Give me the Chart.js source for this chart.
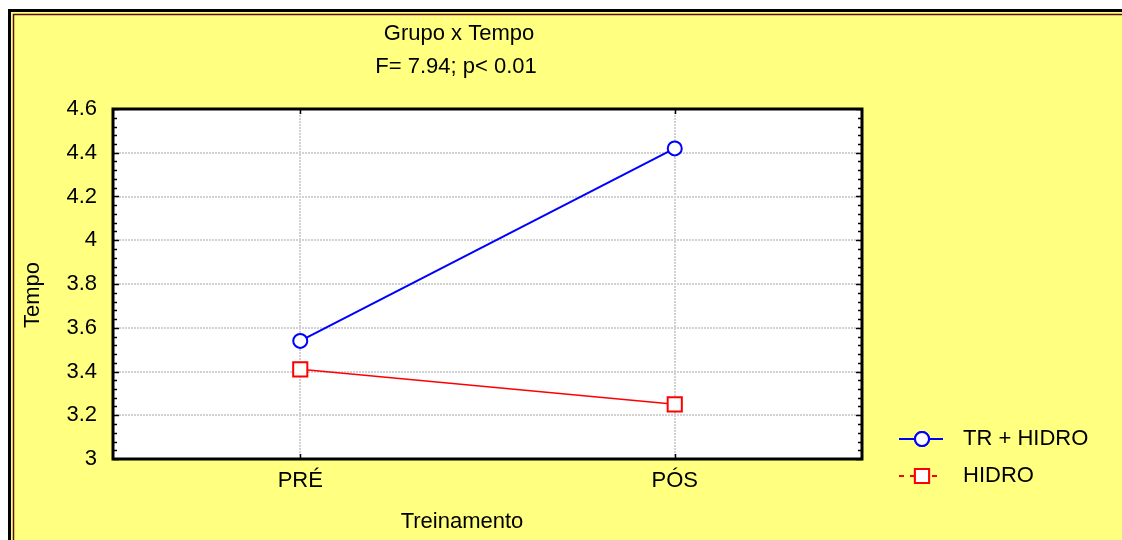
<!DOCTYPE html>
<html>
<head>
<meta charset="utf-8">
<script src="https://cdn.jsdelivr.net/npm/chart.js@4"></script>
<style>
  body { margin: 0; background: #fff; }
</style>
</head>
<body>
<canvas id="chart" width="1122" height="540"></canvas>
<script>
// data
const categories = ["PRÉ", "PÓS"];
const trHidro = [3.54, 4.42];
const hidro = [3.41, 3.25];
const seriesNames = ["TR + HIDRO", "HIDRO"];
const yRange = [3, 4.6];
const yStep = 0.2;
const titleLines = ["Grupo x Tempo", "F= 7.94; p< 0.01"];
const xTitle = "Treinamento";
const yTitle = "Tempo";

const W = 1122, H = 540;
const FONT = '"Liberation Sans", Arial, sans-serif';
const FS = 22;

Chart.defaults.font.family = FONT;
Chart.defaults.font.size = FS;
Chart.defaults.color = "#000";

// frame, plot box, inward ticks, titles and legend
const decor = {
  id: "decor",
  beforeDraw(chart) {
    const { ctx, chartArea: a } = chart;
    ctx.save();
    ctx.fillStyle = "#fff";
    ctx.fillRect(0, 0, W, H);
    ctx.fillStyle = "#FFFF80";
    ctx.fillRect(8, 9, W - 8, H - 9);
    ctx.strokeStyle = "#000";
    ctx.lineWidth = 3;
    ctx.beginPath();
    ctx.moveTo(9.5, H); ctx.lineTo(9.5, 10.5); ctx.lineTo(W, 10.5);
    ctx.stroke();
    ctx.strokeStyle = "#5a1010";
    ctx.lineWidth = 1.5;
    ctx.beginPath();
    ctx.moveTo(13.5, H); ctx.lineTo(13.5, 14.5); ctx.lineTo(W, 14.5);
    ctx.stroke();
    ctx.fillStyle = "#fff";
    ctx.fillRect(a.left, a.top, a.width, a.height);
    ctx.restore();
  },
  afterDraw(chart) {
    const { ctx, chartArea: a, scales } = chart;
    ctx.save();

    // box
    ctx.strokeStyle = "#000";
    ctx.lineWidth = 3;
    ctx.strokeRect(a.left, a.top, a.width, a.height);

    // minor/major ticks on left and right
    ctx.lineWidth = 1.5;
    ctx.beginPath();
    const n = Math.round((yRange[1] - yRange[0]) / 0.04);
    for (let i = 0; i <= n; i++) {
      const y = Math.round(scales.y.getPixelForValue(yRange[0] + i * 0.04)) + 0.5;
      const len = i % 5 === 0 ? 6 : 4;
      ctx.moveTo(a.left, y); ctx.lineTo(a.left + len, y);
      ctx.moveTo(a.right, y); ctx.lineTo(a.right - len, y);
    }
    categories.forEach((c, i) => {
      const x = Math.round(scales.x.getPixelForValue(i)) + 0.5;
      ctx.moveTo(x, a.bottom); ctx.lineTo(x, a.bottom - 5);
      ctx.moveTo(x, a.top); ctx.lineTo(x, a.top + 5);
    });
    ctx.stroke();

    // titles
    ctx.fillStyle = "#000";
    ctx.font = FS + "px " + FONT;
    ctx.textAlign = "center";
    ctx.textBaseline = "middle";
    ctx.fillText(titleLines[0], 459, 34);
    ctx.fillText(titleLines[1], 456, 67);
    ctx.fillText(xTitle, 462, 522);
    ctx.save();
    ctx.translate(33, 295);
    ctx.rotate(-Math.PI / 2);
    ctx.fillText(yTitle, 0, 0);
    ctx.restore();

    // legend
    chart.data.datasets.forEach((ds, i) => {
      const y = 439 + i * 37;
      ctx.strokeStyle = ds.borderColor;
      ctx.lineWidth = 2;
      ctx.setLineDash(i === 1 ? [5, 6] : []);
      ctx.beginPath();
      ctx.moveTo(899, y); ctx.lineTo(943, y);
      ctx.stroke();
      ctx.setLineDash([]);
      Chart.helpers.drawPoint(ctx, {
        pointStyle: ds.pointStyle,
        radius: ds.pointRadius,
        borderWidth: ds.pointBorderWidth
      }, 922, y);
      ctx.fillStyle = "#fff";
      ctx.strokeStyle = ds.borderColor;
      ctx.lineWidth = ds.pointBorderWidth;
      ctx.fill();
      ctx.stroke();
      ctx.fillStyle = "#000";
      ctx.textAlign = "left";
      ctx.fillText(ds.label, 963, y);
    });
    ctx.restore();
  }
};

new Chart(document.getElementById("chart"), {
  type: "line",
  data: {
    labels: categories,
    datasets: [
      {
        label: seriesNames[0],
        data: trHidro,
        borderColor: "#0000FF",
        borderWidth: 2,
        pointStyle: "circle",
        pointRadius: 7,
        pointBorderWidth: 2,
        pointBackgroundColor: "#fff",
        pointBorderColor: "#0000FF"
      },
      {
        label: seriesNames[1],
        data: hidro,
        borderColor: "#FF0000",
        borderWidth: 1.5,
        pointStyle: "rect",
        pointRadius: 10,
        pointBorderWidth: 2,
        pointBackgroundColor: "#fff",
        pointBorderColor: "#FF0000"
      }
    ]
  },
  options: {
    responsive: false,
    animation: false,
    layout: { padding: { left: 0, top: 109, right: W - 862, bottom: 0 } },
    plugins: { legend: { display: false }, title: { display: false }, tooltip: { enabled: false } },
    scales: {
      x: {
        offset: true,
        grid: { offset: false, drawTicks: false, color: "#d2d2d2", lineWidth: 2 },
        border: { display: false, dash: [2, 1] },
        ticks: { padding: 9, font: { size: FS } },
        afterFit: s => { s.height = H - 459; }
      },
      y: {
        min: yRange[0],
        max: yRange[1],
        grid: { drawTicks: false, color: "#d2d2d2", lineWidth: 2 },
        border: { display: false, dash: [2, 1] },
        ticks: {
          stepSize: yStep,
          padding: 16,
          font: { size: FS },
          callback: v => String(Math.round(v * 10) / 10)
        },
        afterFit: s => { s.width = 113; }
      }
    }
  },
  plugins: [decor]
});
</script>
</body>
</html>
